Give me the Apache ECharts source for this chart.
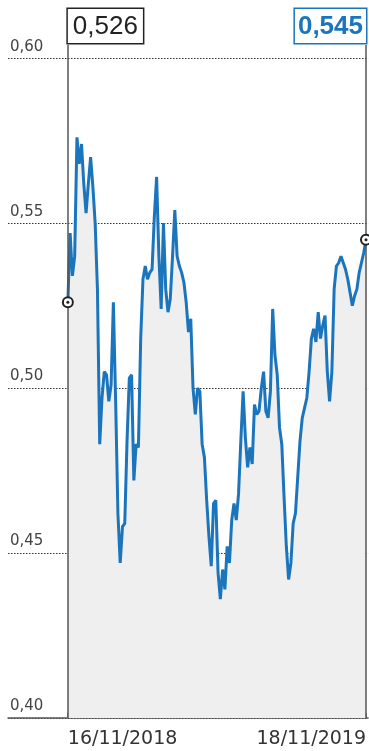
<!DOCTYPE html>
<html>
<head>
<meta charset="utf-8">
<script src="https://cdn.jsdelivr.net/npm/echarts@6/dist/echarts.min.js"></script>
<style>
  html, body { margin: 0; padding: 0; background: #fff; }
  #chart { width: 369px; height: 751px; }
</style>
</head>
<body>
<div id="chart"></div>
<script>
// fechas de los extremos del periodo
var dateLabels = ['16/11/2018', '18/11/2019'];
// cotización, un punto cada ~2 sesiones
var values = [
  0.526, 0.547, 0.534, 0.540, 0.576, 0.568, 0.574, 0.562, 0.553, 0.562,
  0.570, 0.561, 0.550, 0.530, 0.483, 0.497, 0.505, 0.504, 0.496, 0.501,
  0.526, 0.496, 0.462, 0.447, 0.458, 0.459, 0.484, 0.503, 0.504, 0.472,
  0.483, 0.482, 0.515, 0.533, 0.537, 0.533, 0.535, 0.536, 0.552, 0.564,
  0.540, 0.524, 0.550, 0.530, 0.523, 0.527, 0.540, 0.554, 0.540, 0.537,
  0.535, 0.532, 0.526, 0.517, 0.521, 0.500, 0.492, 0.500, 0.499, 0.483,
  0.479, 0.466, 0.455, 0.446, 0.465, 0.466, 0.444, 0.436, 0.445, 0.439,
  0.452, 0.447, 0.460, 0.465, 0.460, 0.468, 0.484, 0.499, 0.485, 0.476,
  0.482, 0.477, 0.495, 0.492, 0.493, 0.500, 0.505, 0.493, 0.491, 0.499,
  0.524, 0.510, 0.504, 0.488, 0.483, 0.467, 0.452, 0.442, 0.447, 0.459,
  0.462, 0.473, 0.484, 0.491, 0.494, 0.497, 0.505, 0.515, 0.518, 0.514,
  0.523, 0.515, 0.519, 0.522, 0.505, 0.496, 0.505, 0.530, 0.537, 0.538,
  0.540, 0.538, 0.536, 0.533, 0.529, 0.525, 0.528, 0.530, 0.535, 0.538,
  0.541, 0.545
];
var yTicks = [0.40, 0.45, 0.50, 0.55, 0.60];

var last = values.length - 1;
var blue = '#1b75bc';
var fmt = function (v) { return v.toFixed(3).replace('.', ','); };

var myChart = echarts.init(document.getElementById('chart'));

var option = {
    backgroundColor: '#fff',
    animation: false,
    grid: { left: 8, right: 0, top: 45, bottom: 33 },
    xAxis: [{
        type: 'value',
        min: -26.3,
        max: last + 0.9,
        splitLine: { show: false },
        axisLine: { lineStyle: { color: '#555', width: 1.5 } },
        axisTick: { customValues: [0, last], inside: true, length: 5, lineStyle: { color: '#555', width: 1.5 } },
        axisLabel: {
            customValues: [0],
            align: 'left',
            margin: 12,
            color: '#333',
            fontFamily: 'DejaVu Sans',
            fontSize: 19,
            formatter: function () { return dateLabels[0]; }
        }
    }, {
        type: 'value',
        position: 'bottom',
        min: -26.3,
        max: last + 0.9,
        splitLine: { show: false },
        axisLine: { show: false },
        axisTick: { show: false },
        axisLabel: {
            customValues: [last],
            align: 'right',
            margin: 12,
            color: '#333',
            fontFamily: 'DejaVu Sans',
            fontSize: 19,
            formatter: function () { return dateLabels[1]; }
        }
    }],
    yAxis: {
        type: 'value',
        min: yTicks[0],
        max: 0.604,
        interval: 0.05,
        axisLine: { show: false },
        axisTick: { show: false },
        splitLine: {
            showMaxLine: false,
            lineStyle: { color: '#333', type: [1.5, 1.5], width: 1.2 }
        },
        axisLabel: {
            inside: true,
            margin: 2,
            showMaxLabel: false,
            verticalAlign: 'bottom',
            padding: [0, 0, 4, 0],
            color: '#444',
            fontFamily: 'DejaVu Sans',
            fontSize: 15,
            formatter: function (v) {
                return v > 0.601 ? '' : v.toFixed(2).replace('.', ',');
            }
        }
    },
    series: [{
        type: 'line',
        data: values.map(function (v, i) { return [i, v]; }),
        showSymbol: false,
        clip: false,
        lineStyle: { color: blue, width: 3 },
        areaStyle: { color: '#efefef', opacity: 1 },
        z: 3,
        markLine: {
            silent: true,
            symbol: ['none', 'none'],
            lineStyle: { color: '#555', width: 1.5, type: 'solid' },
            data: [{
                xAxis: 0,
                label: {
                    position: 'end', align: 'left', distance: 2,
                    formatter: fmt(values[0]),
                    color: '#222', fontSize: 26, fontFamily: 'Liberation Sans',
                    borderColor: '#222', borderWidth: 1.5, padding: [5, 5, 3, 5],
                    backgroundColor: '#fff'
                }
            }, {
                xAxis: last,
                label: {
                    position: 'end', align: 'right', distance: 2,
                    formatter: fmt(values[last]),
                    color: blue, fontSize: 26, fontWeight: 'bold', fontFamily: 'Liberation Sans',
                    borderColor: blue, borderWidth: 1.5, padding: [5, 3, 3, 3],
                    backgroundColor: '#fff'
                }
            }]
        },
        markPoint: {
            silent: true,
            label: { show: false },
            data: [
                { coord: [0, values[0]], symbol: 'circle', symbolSize: 10, itemStyle: { color: '#fff', borderColor: '#222', borderWidth: 2 } },
                { coord: [0, values[0]], symbol: 'circle', symbolSize: 3, itemStyle: { color: '#222' } },
                { coord: [last, values[last]], symbol: 'circle', symbolSize: 10, itemStyle: { color: '#fff', borderColor: '#222', borderWidth: 2 } },
                { coord: [last, values[last]], symbol: 'circle', symbolSize: 3, itemStyle: { color: '#222' } }
            ]
        }
    }]
};

myChart.setOption(option);
</script>
</body>
</html>
